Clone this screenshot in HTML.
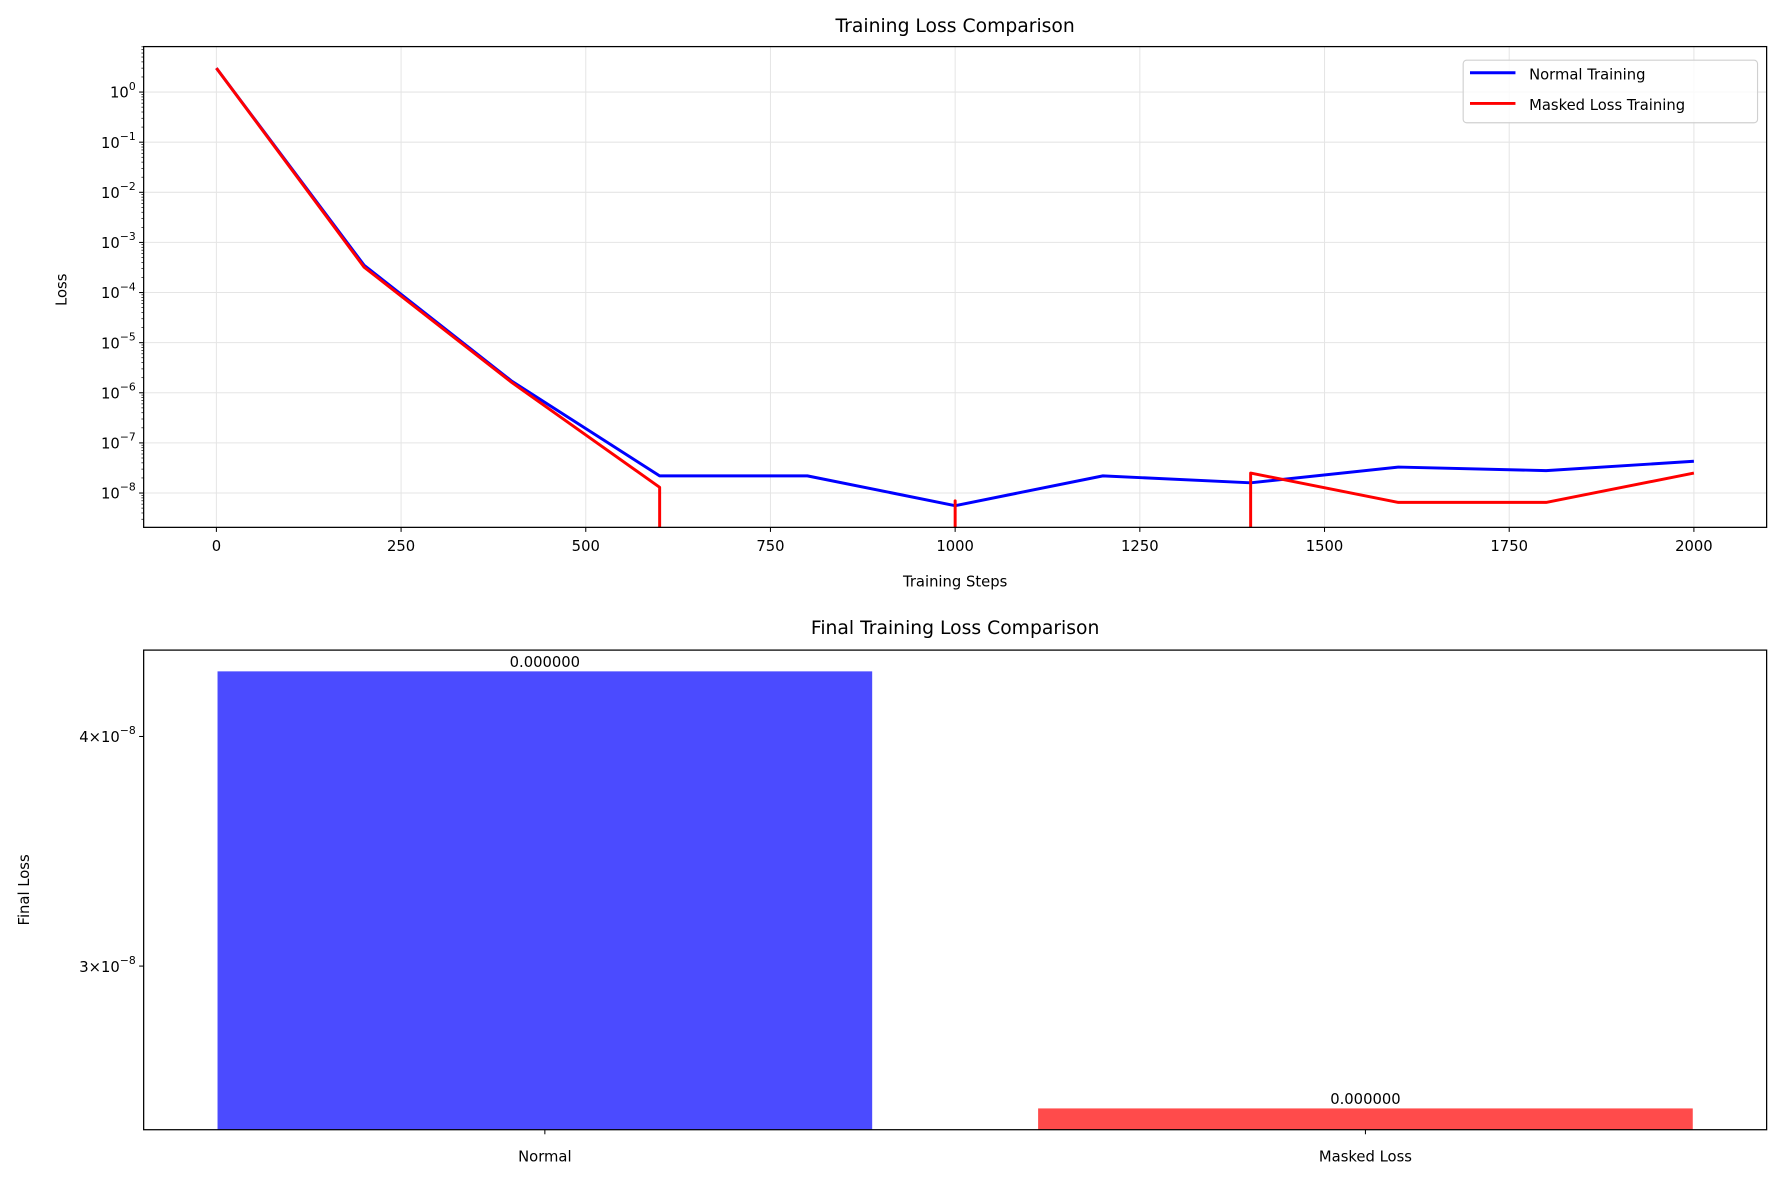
<!DOCTYPE html>
<html><head><meta charset="utf-8"><style>
html,body{margin:0;padding:0;background:#fff}
svg{display:block;font-family:"DejaVu Sans","Liberation Sans",sans-serif}
</style></head><body>
<svg id="fig" width="1783" height="1182" viewBox="0 0 1568 1040" xmlns="http://www.w3.org/2000/svg">
<rect width="1568" height="1040" fill="#fff"/>
<g id="topChart"></g>
<g id="botChart"></g>
</svg>
<script>
const steps = [0,200,400,600,800,1000,1200,1400,1600,1800,2000];
const normalLoss = [3.0,3.5e-4,1.7e-6,2.2e-8,2.2e-8,5.6e-9,2.2e-8,1.6e-8,3.3e-8,2.8e-8,4.3e-8];
const maskedLoss = [3.0,3.2e-4,1.6e-6,1.3e-8,0,7e-9,0,2.5e-8,6.5e-9,6.5e-9,2.5e-8];
const xTicks = [0,250,500,750,1000,1250,1500,1750,2000];
const yExps = [0,-1,-2,-3,-4,-5,-6,-7,-8];
const barCategories = ["Normal","Masked Loss"];
const barValues = [4.34e-8,2.51e-8];
const barLabels = ["0.000000","0.000000"];
const barColors = ["#4b4bff","#ff4b4b"];

const NS="http://www.w3.org/2000/svg";
function mk(parent,tag,attrs,text){const e=document.createElementNS(NS,tag);for(const k in attrs)e.setAttribute(k,attrs[k]);if(text!==undefined)e.textContent=text;parent.appendChild(e);return e;}

// ---- top chart
const topG=document.getElementById('topChart');
const T={l:126,r:1554,t:41,b:464};
const xS=v=>190+(v-0)*(1490-190)/2000;
const yS=v=>81-Math.log10(v)*44.1;
mk(topG,'text',{x:840,y:28,'text-anchor':'middle','font-size':16.5,fill:'#000',},'Training Loss Comparison');
const clip=mk(mk(topG,'defs',{}),'clipPath',{id:'clipTop'});
mk(clip,'rect',{x:T.l,y:T.t,width:T.r-T.l,height:T.b-T.t});
xTicks.forEach(t=>{
  const g=mk(topG,'line',{x1:xS(t),x2:xS(t),y1:T.t,y2:T.b,stroke:'#e5e5e5','stroke-width':0.9});
  
  
  mk(topG,'line',{x1:xS(t),x2:xS(t),y1:T.b,y2:T.b+4,stroke:'#000','stroke-width':0.9});
  const lb=mk(topG,'text',{x:xS(t),y:T.b+21,'text-anchor':'middle','font-size':13,fill:'#000'},String(t));
  
  
});
yExps.forEach(e=>{
  const yy=yS(Math.pow(10,e));
  const g=mk(topG,'line',{x1:T.l,x2:T.r,y1:yy,y2:yy,stroke:'#e5e5e5','stroke-width':0.9});
  
  
  mk(topG,'line',{x1:T.l-4,x2:T.l,y1:yy,y2:yy,stroke:'#000','stroke-width':0.9});
  const lb=mk(topG,'text',{x:T.l-7,y:yy+5,'text-anchor':'end','font-size':13,fill:'#000'});
  
  
  mk(lb,'tspan',{},'10');
  mk(lb,'tspan',{dy:-7,'font-size':9.5},e===0?'0':'\u2212'+(-e));
});
for(let e=-9;e<=0;e++){for(let m=2;m<=9;m++){const v=m*Math.pow(10,e);const yy=yS(v);if(yy>T.t&&yy<T.b)mk(topG,'line',{x1:T.l-2,x2:T.l,y1:yy,y2:yy,stroke:'#000','stroke-width':0.6});}}
function drawSeries(vals,color,name){
  const g=mk(topG,'g',{'clip-path':'url(#clipTop)'});
  
  
  const low=T.b+100;
  const pts=steps.map((s,i)=>[xS(s),vals[i]>0?yS(vals[i]):low]);
  let d='';
  for(let i=0;i<pts.length;i++){
    let [x,y]=pts[i];
    if(i>0&&vals[i]<=0){ x=pts[i-1][0]; }
    if(i>0&&vals[i-1]<=0&&vals[i]>0){ d+=`M${x},${low}L${x},${y}`; continue; }
    d+=(i===0?'M':'L')+x+','+y;
  }
  mk(g,'path',{d:d,fill:'none',stroke:color,'stroke-width':2.6,'stroke-linejoin':'round'});
}
drawSeries(normalLoss,'#0000ff','normal-training-line');
drawSeries(maskedLoss,'#ff0000','masked-loss-line');
mk(topG,'rect',{x:T.l,y:T.t,width:T.r-T.l,height:T.b-T.t,fill:'none',stroke:'#000','stroke-width':1.1});
mk(topG,'text',{x:840,y:516,'text-anchor':'middle','font-size':13,fill:'#000',},'Training Steps');
mk(topG,'text',{x:0,y:0,transform:'translate(58,255) rotate(-90)','text-anchor':'middle','font-size':13,fill:'#000',},'Loss');
const lg=mk(topG,'g',{});


mk(lg,'rect',{x:1287,y:53,width:259,height:55,rx:3,fill:'#fff','fill-opacity':0.8,stroke:'#d0d0d0','stroke-width':1});
mk(lg,'line',{x1:1293,x2:1333,y1:64,y2:64,stroke:'#0000ff','stroke-width':2.6});
mk(lg,'text',{x:1345,y:70,'font-size':13,fill:'#000',},'Normal Training');
mk(lg,'line',{x1:1293,x2:1333,y1:91,y2:91,stroke:'#ff0000','stroke-width':2.6});
mk(lg,'text',{x:1345,y:97,'font-size':13,fill:'#000',},'Masked Loss Training');

// ---- bottom chart
const botG=document.getElementById('botChart');
const B={l:126,r:1554,t:572,b:994};
const L4=Math.log10(4e-8);
const byS=v=>648-(Math.log10(v)-L4)*1617;
const bxS=i=>479+i*722;
mk(botG,'text',{x:840,y:558,'text-anchor':'middle','font-size':16.5,fill:'#000',},'Final Training Loss Comparison');
barValues.forEach((v,i)=>{
  const y=byS(v);
  const r=mk(botG,'rect',{x:bxS(i)-288,y:y,width:576,height:B.b-y,fill:barColors[i]});
  
  
  const t=mk(botG,'text',{x:bxS(i),y:y-4,'text-anchor':'middle','font-size':13,fill:'#000'},barLabels[i]);
  
  
  mk(botG,'line',{x1:bxS(i),x2:bxS(i),y1:B.b,y2:B.b+4,stroke:'#000','stroke-width':0.9});
  const c=mk(botG,'text',{x:bxS(i),y:B.b+28,'text-anchor':'middle','font-size':13,fill:'#000'},barCategories[i]);
  
  
});
[[4,-8],[3,-8]].forEach(([m,e])=>{
  const yy=byS(m*Math.pow(10,e));
  mk(botG,'line',{x1:B.l-4,x2:B.l,y1:yy,y2:yy,stroke:'#000','stroke-width':0.9});
  const lb=mk(botG,'text',{x:B.l-7,y:yy+5,'text-anchor':'end','font-size':13,fill:'#000'});
  
  
  mk(lb,'tspan',{},m+'\u00d710');
  mk(lb,'tspan',{dy:-7,'font-size':9.5},'\u2212'+(-e));
});
mk(botG,'rect',{x:B.l,y:B.t,width:B.r-B.l,height:B.b-B.t,fill:'none',stroke:'#000','stroke-width':1.1});
mk(botG,'text',{x:0,y:0,transform:'translate(25,783) rotate(-90)','text-anchor':'middle','font-size':13,fill:'#000',},'Final Loss');
</script>
</body></html>
